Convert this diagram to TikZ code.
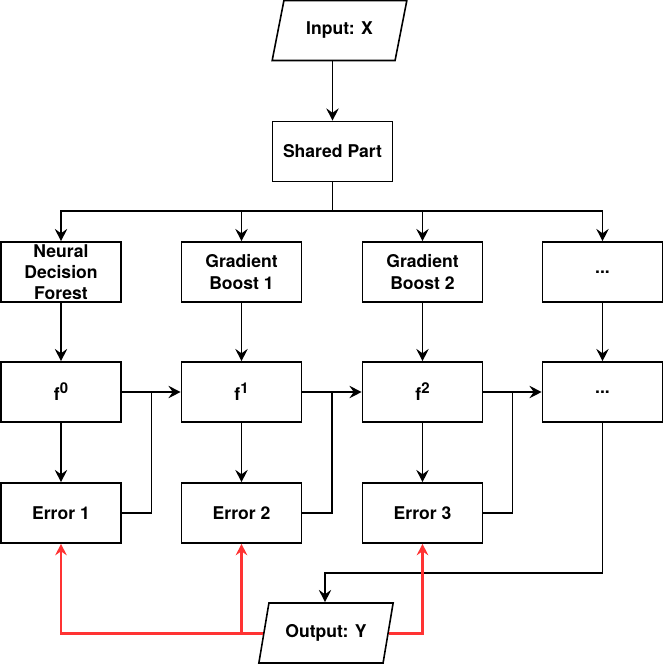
\documentclass[tikz,border=0pt]{standalone}
\usepackage{fontspec}
\setmainfont{TeX Gyre Heros}
\usetikzlibrary{arrows.meta,shapes.geometric}
\definecolor{errred}{HTML}{FF3333}
\newcommand{\supnum}[1]{\raisebox{0.75ex}{\fontsize{8.5}{10}\selectfont #1}}
\tikzset{
	box/.style={draw, line width=0.9pt, minimum width=2.4cm, minimum height=1.2cm, inner sep=0pt, align=center, font=\bfseries\fontsize{10}{12}\selectfont},
	io/.style={box, trapezium, trapezium left angle=67, trapezium right angle=113, trapezium stretches=true, minimum width=2.7cm, minimum height=1.2cm},
	link/.style={line width=0.9pt},
	arr/.style={link, -{Stealth[length=7pt,width=7pt,inset=2.5pt]}},
	redarr/.style={line width=1.7pt, errred, -{Stealth[length=6.5pt,width=6.5pt,inset=2.2pt]}}
}
\begin{document}
\begin{tikzpicture}[x=0.02cm, y=-0.02cm]
		\useasboundingbox (0,0) rectangle (664,666);
		\node[io] (inp) at (339.5,30.5) {Input: X};
		\node[box] (shared) at (332.5,151.5) {Shared Part};

		\node[box] (ndf) at (61,272) {Neural\\Decision\\Forest};
		\node[box] (gb1) at (241.5,272) {Gradient\\Boost 1};
		\node[box] (gb2) at (422.5,272) {Gradient\\Boost 2};
		\node[box] (dots1) at (602.5,272) {...};

		\node[box] (f0) at (61,392) {f\supnum{0}};
		\node[box] (f1) at (241.5,392) {f\supnum{1}};
		\node[box] (f2) at (422.5,392) {f\supnum{2}};
		\node[box] (dots2) at (602.5,392) {...};

		\node[box] (err1) at (61,513) {Error 1};
		\node[box] (err2) at (241.5,513) {Error 2};
		\node[box] (err3) at (422.5,513) {Error 3};

		\node[io] (out) at (326,633) {Output: Y};

		\coordinate (split) at (332.5,211);
		\coordinate (j1) at (151.5,392);
		\coordinate (j2) at (332,392);
		\coordinate (j3) at (512.5,392);
		\coordinate (turn) at (325,573);

		\draw[arr] (inp.south -| shared.north) -- (shared.north);
		\draw[link] (shared.south) -- (split);
		\draw[arr] (split) -| (ndf.north);
		\draw[arr] (split) -| (gb1.north);
		\draw[arr] (split) -| (gb2.north);
		\draw[arr] (split) -| (dots1.north);

		\draw[arr] (ndf) -- (f0);
		\draw[arr] (gb1) -- (f1);
		\draw[arr] (gb2) -- (f2);
		\draw[arr] (dots1) -- (dots2);

		\draw[arr] (f0) -- (f1);
		\draw[arr] (f1) -- (f2);
		\draw[arr] (f2) -- (dots2);

		\draw[arr] (f0) -- (err1);
		\draw[arr] (f1) -- (err2);
		\draw[arr] (f2) -- (err3);

		\draw[link] (err1.east) -| (j1);
		\draw[link] (err2.east) -| (j2);
		\draw[link] (err3.east) -| (j3);

		\draw[arr] (dots2.south) |- (turn) -- (turn |- out.north);

		\draw[redarr] (out.west) -| (err1.south);
		\draw[redarr] (err2.south |- out.west) -- (err2.south);
		\draw[redarr] (out.east) -| (err3.south);
\end{tikzpicture}
\end{document}
